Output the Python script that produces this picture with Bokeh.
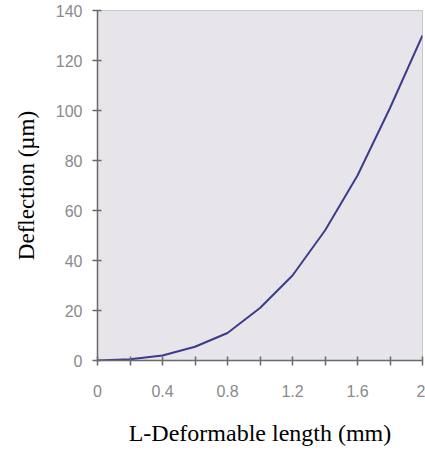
from bokeh.plotting import figure
from bokeh.models import Range1d, FixedTicker
from bokeh.embed import file_html
from bokeh.resources import INLINE

length_mm = [0.0, 0.2, 0.4, 0.6, 0.8, 1.0, 1.2, 1.4, 1.6, 1.8, 2.0]
deflection_um = [0.0, 0.5, 2.0, 5.5, 11.0, 21.0, 34.0, 52.0, 74.0, 101.0, 130.0]
x_ticks = [0, 0.4, 0.8, 1.2, 1.6, 2.0]
x_minor = [0.2, 0.6, 1.0, 1.4, 1.8]
y_ticks = [0, 20, 40, 60, 80, 100, 120, 140]

p = figure(width=425, height=450, output_backend="svg", toolbar_location=None,
           x_range=Range1d(0, 2), y_range=Range1d(0, 140),
           min_border_left=97, min_border_right=3, min_border_top=10, min_border_bottom=90)
p.background_fill_color = "#e7e5e9"
p.border_fill_color = "white"
p.outline_line_color = "#c8c8c8"
p.xgrid.visible = False
p.ygrid.visible = False

p.line(length_mm, deflection_um, line_color="#3b3b8f", line_width=2)

for ax in (p.xaxis[0], p.yaxis[0]):
    ax.axis_line_color = "#6a6a6a"
    ax.axis_line_width = 1.5
    ax.major_tick_line_color = "#6a6a6a"
    ax.major_tick_line_width = 1.5
    ax.minor_tick_line_color = "#6a6a6a"
    ax.minor_tick_line_width = 1.5
    ax.major_tick_in = 4
    ax.major_tick_out = 5
    ax.major_label_text_font = "Liberation Sans"
    ax.major_label_text_font_size = "16px"
    ax.major_label_text_color = "#8a8a8a"
    ax.axis_label_text_font = "Liberation Serif"
    ax.axis_label_text_font_style = "normal"
    ax.axis_label_text_color = "black"

p.xaxis.ticker = FixedTicker(ticks=x_ticks, minor_ticks=x_minor)
p.xaxis.minor_tick_in = 4
p.xaxis.minor_tick_out = 5
p.xaxis.major_label_standoff = 19
p.xaxis.axis_label = "L-Deformable length (mm)"
p.xaxis.axis_label_text_font_size = "24px"
p.xaxis.axis_label_standoff = 20
p.xaxis.major_label_overrides = {2.0: "2", 0: "0"}

p.yaxis.ticker = FixedTicker(ticks=y_ticks, minor_ticks=[])
p.yaxis.major_label_standoff = 10
p.yaxis.axis_label = "Deflection (µm)"
p.yaxis.axis_label_text_font_size = "23px"
p.yaxis.axis_label_standoff = 14

open("out.html", "w").write(file_html(p, INLINE))
